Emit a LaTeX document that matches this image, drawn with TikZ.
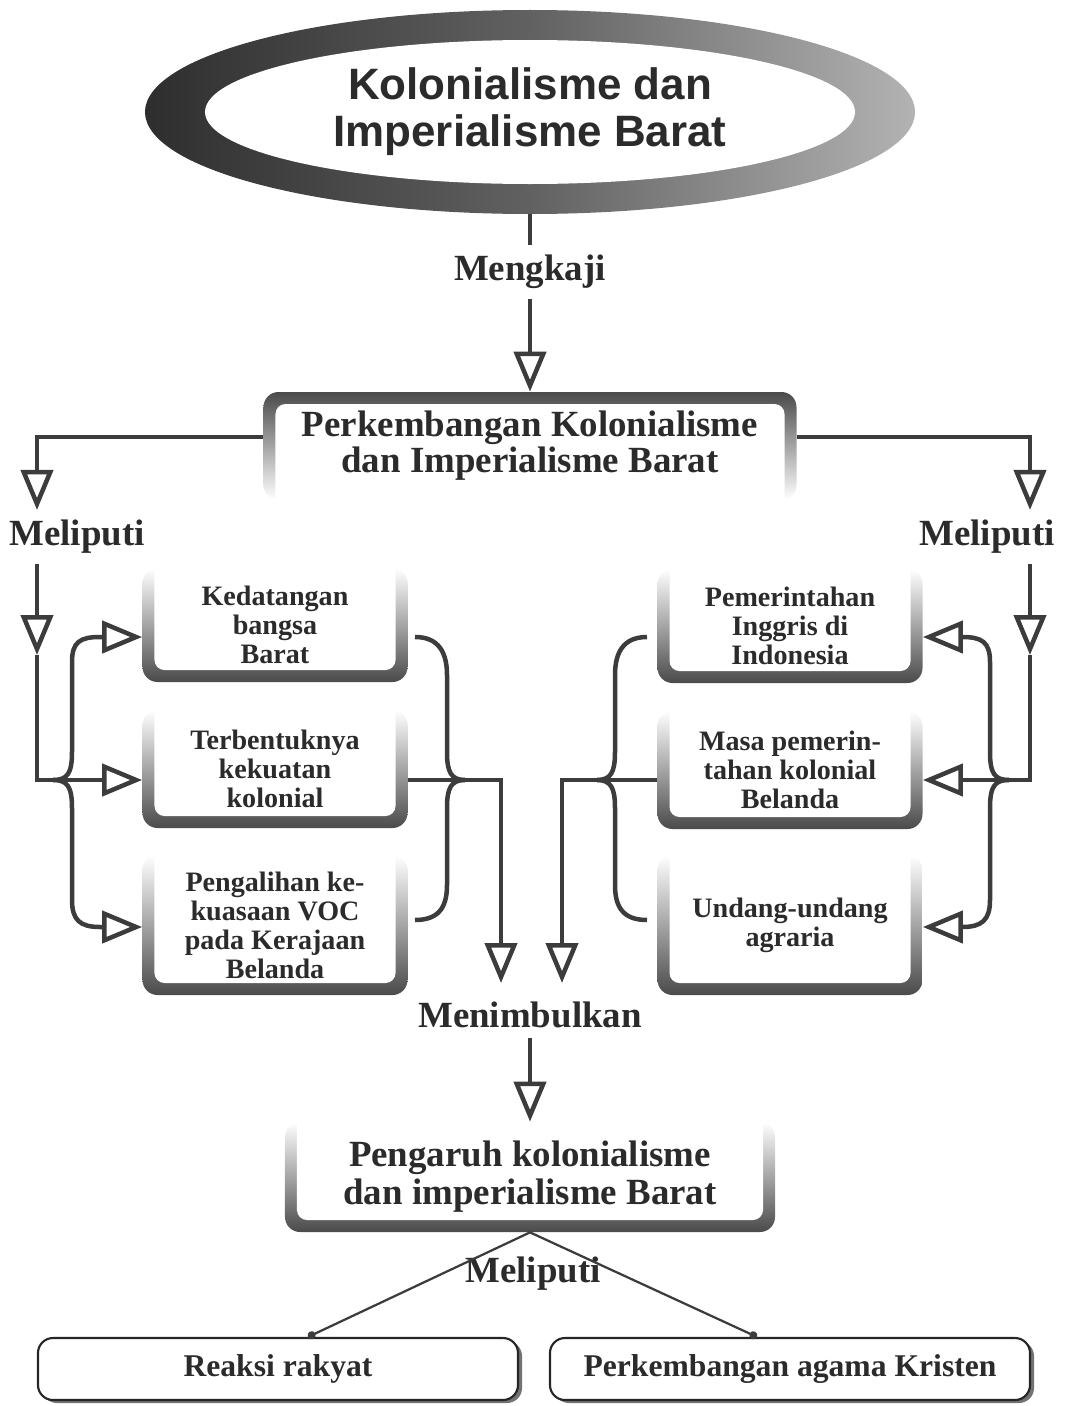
\documentclass[tikz,border=0pt]{standalone}
\usepackage{fontspec}
\setmainfont{Liberation Serif}
\newfontfamily\headfont{Liberation Sans}
\usepackage{tikz}
\usetikzlibrary{calc}
\usetikzlibrary{arrows.meta, shapes.geometric, shadows}

\definecolor{ink}{HTML}{2B2B2B}
\definecolor{wire}{HTML}{3C3C3C}
\definecolor{frame}{HTML}{4A4A4A}

\begin{document}
\begin{tikzpicture}[x=0.2mm, y=-0.2mm,
    >={Triangle[open,length=8mm,width=6.4mm]},
    wire/.style={draw=wire, line width=0.9mm},
    thinwire/.style={draw=wire, line width=0.45mm},
    lbl/.style={font=\fontsize{21}{21}\selectfont\bfseries, text=ink, inner sep=2mm},
    kolbox/.style={ellipse, minimum width=154mm, minimum height=40.8mm, inner sep=0pt,
      left color=black!82, right color=black!30, middle color=black!62,
      path picture={\fill[white] (path picture bounding box.center)
        ellipse [x radius=65mm, y radius=14.4mm];},
      font=\headfont\fontsize{25}{26.6}\selectfont\bfseries, text=ink, align=center},
    topbox/.style={rectangle, rounded corners=3mm, minimum width=106.6mm,
      minimum height=21.6mm, align=center, text=ink,
      font=\fontsize{21}{20.5}\selectfont\bfseries,
      path picture={
        \shade[top color=frame, middle color=frame!65, bottom color=white]
          (path picture bounding box.north west) rectangle (path picture bounding box.south east);
        \fill[white, rounded corners=2mm]
          ([xshift=2.4mm,yshift=-2.4mm]path picture bounding box.north west)
          rectangle ([xshift=-2.4mm,yshift=-5mm]path picture bounding box.south east);}},
    subbox/.style={rectangle, rounded corners=3mm, minimum width=53mm,
      align=center, text=ink, font=\fontsize{16}{16.5}\selectfont\bfseries,
      path picture={
        \shade[top color=white, middle color=frame!70, bottom color=frame]
          (path picture bounding box.north west) rectangle (path picture bounding box.south east);
        \fill[white, rounded corners=2mm]
          ([xshift=2.4mm,yshift=5mm]path picture bounding box.north west)
          rectangle ([xshift=-2.4mm,yshift=2.4mm]path picture bounding box.south east);}},
    endbox/.style={rectangle, rounded corners=3mm, draw=black!85, line width=1.2pt,
      fill=white, minimum width=96mm, minimum height=12.4mm, text=ink,
      font=\fontsize{18}{18}\selectfont\bfseries,
      drop shadow={shadow xshift=0.8mm, shadow yshift=-0.6mm, fill=black!55, opacity=1}}]

  \useasboundingbox (0,0) rectangle (1065,1406);

  % title and main topic
  \node[kolbox] (kol) at (530,112) {Kolonialisme dan\\Imperialisme Barat};
  \node[lbl]    (mkj) at (530,272) {Mengkaji};
  \node[topbox] (tb)  at (530,446) {Perkembangan Kolonialisme\\dan Imperialisme Barat};
  \node[lbl]    (mlL) at (77,537)  {Meliputi};
  \node[lbl]    (mlR) at (987,537) {Meliputi};

  % sub topics
  \node[subbox, minimum height=22.8mm] (b1) at (275,625) {Kedatangan\\bangsa\\Barat};
  \node[subbox, minimum height=23.6mm] (b2) at (275,769) {Terbentuknya\\kekuatan\\kolonial};
  \node[subbox, minimum height=28mm]   (b3) at (275,925) {Pengalihan ke-\\kuasaan VOC\\pada Kerajaan\\Belanda};
  \node[subbox, minimum height=22.8mm] (b4) at (790,626) {Pemerintahan\\Inggris di\\Indonesia};
  \node[subbox, minimum height=23.6mm] (b5) at (790,770) {Masa pemerin-\\tahan kolonial\\Belanda};
  \node[subbox, minimum height=28mm]   (b6) at (790,925) {Undang-undang\\agraria};

  % result
  \node[lbl] (mnb) at (530,1015) {Menimbulkan};
  \node[subbox, minimum width=98mm, minimum height=22mm,
        font=\fontsize{21}{21.6}\selectfont\bfseries] (pgr) at (530,1177)
        {Pengaruh kolonialisme\\dan imperialisme Barat};
  \node[lbl]    (mlB) at (533,1274) {Meliputi};
  \node[endbox] (r1)  at (278,1369) {Reaksi rakyat};
  \node[endbox] (r2)  at (790,1369) {Perkembangan agama Kristen};

  \draw[wire] (kol.south) -- (mkj.north);
  \draw[wire,->] (mkj.south) -- (tb.north);

  % left branch
  \coordinate (lt) at (37,437);
  \coordinate (ls) at (37,655);
  \coordinate (lj) at (53,780);
  \coordinate (lu) at (100,637);
  \coordinate (ld) at (100,927);
  \draw[wire,->] (lt -| tb.west) -- (lt) -- (lt |- mlL.north);
  \draw[wire,->] (ls |- mlL.south) -- (ls);
  \draw[wire,->] (ls) |- (lj -| b2.west);
  \draw[wire,->] (lj) .. controls +(14,0) and +(0,22) .. (72,752) -- (72,662)
      .. controls +(0,-20) and +(-20,0) .. (lu) -- (lu -| b1.west);
  \draw[wire,->] (lj) .. controls +(14,0) and +(0,-22) .. (72,808) -- (72,900)
      .. controls +(0,20) and +(-20,0) .. (ld) -- (ld -| b3.west);

  \coordinate (ou) at (415,637);
  \coordinate (oj) at (465,780);
  \coordinate (od) at (415,920);
  \coordinate (om) at (501,983);
  \draw[wire] (ou) .. controls +(24,0) and +(0,-22) .. (447,675) -- (447,752)
      .. controls +(0,20) and +(-14,0) .. (oj);
  \draw[wire] (oj) .. controls +(-14,0) and +(0,-20) .. (447,808) -- (447,885)
      .. controls +(0,22) and +(24,0) .. (od);
  \draw[wire,->] (b2.east |- oj) -| (om);

  % right branch
  \coordinate (rt) at (1030,437);
  \coordinate (rs) at (1030,655);
  \coordinate (rj) at (1009,780);
  \coordinate (ru) at (962,637);
  \coordinate (rd) at (962,927);
  \draw[wire,->] (rt -| tb.east) -- (rt) -- (rt |- mlR.north);
  \draw[wire,->] (rs |- mlR.south) -- (rs);
  \draw[wire,->] (rs) |- (rj -| b5.east);
  \draw[wire,->] (rj) .. controls +(-14,0) and +(0,22) .. (990,752) -- (990,662)
      .. controls +(0,-20) and +(20,0) .. (ru) -- (ru -| b4.east);
  \draw[wire,->] (rj) .. controls +(-14,0) and +(0,-22) .. (990,808) -- (990,900)
      .. controls +(0,20) and +(20,0) .. (rd) -- (rd -| b6.east);

  \coordinate (pu) at (647,637);
  \coordinate (pj) at (597,780);
  \coordinate (pd) at (647,920);
  \coordinate (pm) at (562,983);
  \draw[wire] (pu) .. controls +(-24,0) and +(0,-22) .. (615,675) -- (615,752)
      .. controls +(0,20) and +(14,0) .. (pj);
  \draw[wire] (pj) .. controls +(14,0) and +(0,-20) .. (615,808) -- (615,885)
      .. controls +(0,22) and +(-24,0) .. (pd);
  \draw[wire,->] (b5.west |- pj) -| (pm);

  % effects
  \draw[wire,->] (mnb.south) -- (pgr.north);
  \draw[thinwire,-{Circle[length=1.6mm]}] (pgr.south) -- ([xshift=6mm]r1.north);
  \draw[thinwire,-{Circle[length=1.6mm]}] (pgr.south) -- ([xshift=-6.6mm]r2.north);
\end{tikzpicture}
\end{document}
